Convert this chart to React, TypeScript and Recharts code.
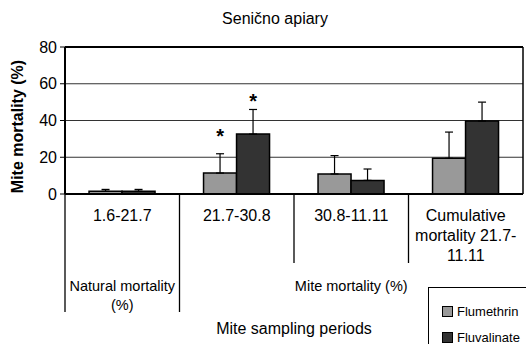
import React from 'react';
import { BarChart, Bar, XAxis, YAxis, CartesianGrid, ErrorBar, Legend, Rectangle, ReferenceLine } from 'recharts';

// Reference data
const periods = ['1.6-21.7', '21.7-30.8', '30.8-11.11', 'Cumulative mortality 21.7-11.11'];
const periodLines = [['1.6-21.7'], ['21.7-30.8'], ['30.8-11.11'], ['Cumulative', 'mortality 21.7-', '11.11']];
const groupLabels = [['Natural mortality', '(%)'], [], ['Mite mortality (%)'], []];
const longDividers = [true, true, false, false];

const flumethrin = [1.5, 11.4, 10.9, 19.4];
const flumethrinErr = [1.0, 10.5, 10.0, 14.3];
const fluvalinate = [1.5, 32.6, 7.4, 39.7];
const fluvalinateErr = [1.0, 13.4, 6.2, 10.3];
// height (in % units) where the significance asterisk sits
const flumethrinStar = [null, 33.7, null, null];
const fluvalinateStar = [null, 52.8, null, null];

const yTicks = [0, 20, 40, 60, 80];
const yMax = 80;

const data = periods.map((p, i) => ({
  period: p,
  flumethrin: flumethrin[i],
  flumethrinErr: [0, flumethrinErr[i]],
  flumethrinStar: flumethrinStar[i],
  fluvalinate: fluvalinate[i],
  fluvalinateErr: [0, fluvalinateErr[i]],
  fluvalinateStar: fluvalinateStar[i],
}));

const FONT = '"Liberation Sans", Arial, sans-serif';

const barWithStar = (valueKey: string, starKey: string) => (props: any) => {
  const { x, y, width, height, payload } = props;
  const value = payload[valueKey];
  const star = payload[starKey];
  let starEl = null;
  if (star != null && value) {
    const starY = y + height - (star * height) / value;
    starEl = (
      <text x={x + width / 2} y={starY + 11} textAnchor="middle" fontSize={20} fontWeight="bold" fontFamily={FONT} fill="#000">
        *
      </text>
    );
  }
  return (
    <g>
      <Rectangle {...props} />
      {starEl}
    </g>
  );
};

const PeriodTick = (props: any) => {
  const { x, y, payload, width, visibleTicksCount } = props;
  const i = periods.indexOf(payload.value);
  const half = payload.offset || width / visibleTicksCount / 2;
  const left = x - half;
  return (
    <g>
      <line x1={left} y1={y} x2={left} y2={y + (longDividers[i] ? 118 : 69)} stroke="#000" strokeWidth={1.3} />
      {periodLines[i].map((t, k) => (
        <text key={k} x={x} y={y + 27 + k * 20} textAnchor="middle" fontSize={16} fontFamily={FONT} fill="#000">
          {t}
        </text>
      ))}
      {groupLabels[i].map((t, k) => (
        <text key={'g' + k} x={x} y={y + 97 + k * 19} textAnchor="middle" fontSize={14.5} fontFamily={FONT} fill="#000">
          {t}
        </text>
      ))}
    </g>
  );
};

const LegendBox = (props: any) => {
  const { payload } = props;
  return (
    <div style={{ border: '1.5px solid #000', background: '#fff', width: 110, height: 70, boxSizing: 'border-box', paddingTop: 10, paddingLeft: 13 }}>
      {(payload || []).map((entry: any, i: number) => (
        <div key={i} style={{ display: 'flex', alignItems: 'center', height: 26, fontSize: 13, fontFamily: FONT, color: '#000' }}>
          <span style={{ display: 'inline-block', width: 9, height: 9, background: entry.color, border: '1px solid #000', marginRight: 4 }} />
          {entry.value}
        </div>
      ))}
    </div>
  );
};

export default function App() {
  return (
    <div style={{ position: 'absolute', left: 0, top: 0, width: 526, height: 344, overflow: 'hidden', background: '#fff' }}>
      <div style={{ position: 'absolute', left: 175, top: 10, width: 200, textAlign: 'center', fontSize: 16, fontFamily: FONT, color: '#000' }}>
        Senično apiary
      </div>
      <BarChart width={526} height={344} data={data} margin={{ top: 47, right: 0, bottom: 0, left: 0 }} barGap={0} barCategoryGap="21%">
        <CartesianGrid vertical={false} stroke="#333" strokeWidth={1.2} />
        <ReferenceLine y={yMax} stroke="#000" strokeWidth={2} />
        <XAxis
          dataKey="period"
          height={150}
          tickLine={false}
          tickSize={0}
          tickMargin={0}
          axisLine={{ stroke: '#000', strokeWidth: 2 }}
          interval={0}
          tick={<PeriodTick />}
          label={{
            content: (p: any) => {
              const vb = p.viewBox;
              return (
                <text x={vb.x + vb.width / 2} y={vb.y + 140} textAnchor="middle" fontSize={16} fontFamily={FONT} fill="#000">
                  Mite sampling periods
                </text>
              );
            },
          }}
        />
        <YAxis
          width={65}
          domain={[0, yMax]}
          ticks={yTicks}
          tickSize={5}
          tickMargin={3}
          tickLine={{ stroke: '#000' }}
          axisLine={{ stroke: '#000', strokeWidth: 2 }}
          tick={{ fill: '#000', fontSize: 16, fontFamily: FONT }}
          label={{
            content: (p: any) => {
              const vb = p.viewBox;
              const cx = 17;
              const cy = vb.y + vb.height / 2 + 6;
              return (
                <text x={cx} y={cy} transform={`rotate(-90 ${cx} ${cy})`} textAnchor="middle" dominantBaseline="central" fontSize={16} fontWeight="bold" fontFamily={FONT} fill="#000">
                  Mite mortality (%)
                </text>
              );
            },
          }}
        />
        <YAxis yAxisId="frame" orientation="right" width={3} tick={false} tickLine={false} axisLine={{ stroke: '#000', strokeWidth: 1.5 }} />
        <Legend
          layout="vertical"
          align="center"
          verticalAlign="middle"
          content={<LegendBox />}
          wrapperStyle={{ position: 'absolute', left: 428, top: 287, width: 110, height: 70 }}
        />
        <Bar dataKey="flumethrin" name="Flumethrin" fill="#999999" stroke="#000" strokeWidth={1.5} isAnimationActive={false} shape={barWithStar('flumethrin', 'flumethrinStar')}>
          <ErrorBar dataKey="flumethrinErr" width={4} stroke="#000" strokeWidth={1.2} direction="y" />
        </Bar>
        <Bar dataKey="fluvalinate" name="Fluvalinate" fill="#333333" stroke="#000" strokeWidth={1.5} isAnimationActive={false} shape={barWithStar('fluvalinate', 'fluvalinateStar')}>
          <ErrorBar dataKey="fluvalinateErr" width={4} stroke="#000" strokeWidth={1.2} direction="y" />
        </Bar>
      </BarChart>
    </div>
  );
}
